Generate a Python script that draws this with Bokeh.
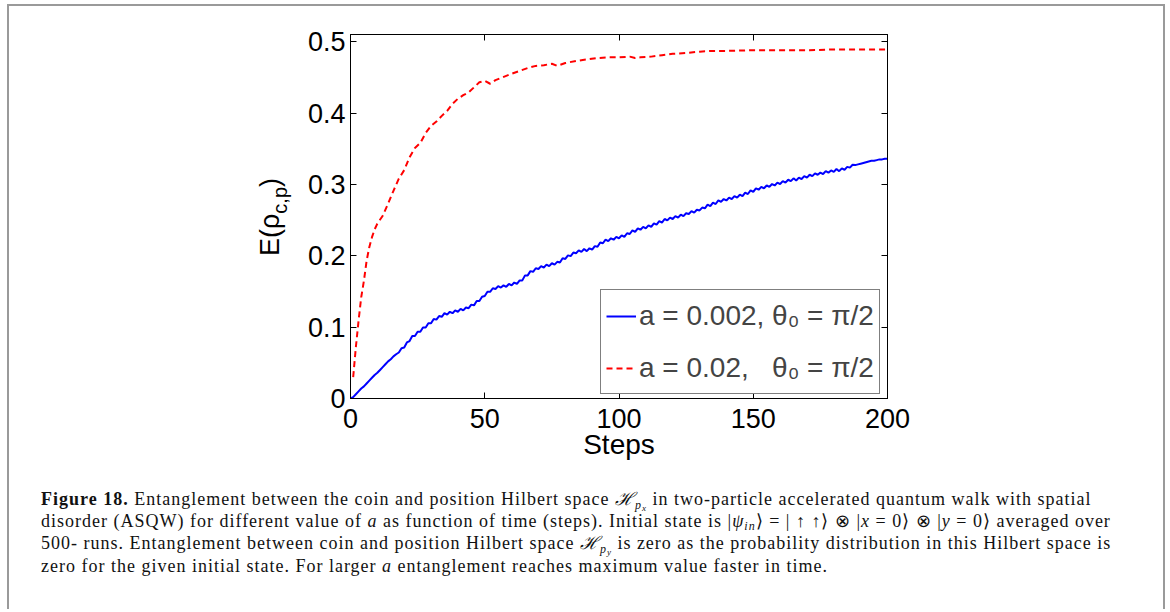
from bokeh.plotting import figure
from bokeh.models import (Range1d, FixedTicker, LinearAxis, Legend, LegendItem, Div)
from bokeh.layouts import column, row
from bokeh.embed import file_html
from bokeh.resources import INLINE

# ---------------- data ----------------
x_ticks = [0, 50, 100, 150, 200]
y_ticks = [0, 0.1, 0.2, 0.3, 0.4, 0.5]
y_tick_labels = ["0", "0.1", "0.2", "0.3", "0.4", "0.5"]

blue_steps = list(range(0, 201))
blue_vals = [
    0.000, 0.002, 0.006, 0.010, 0.014, 0.017, 0.021, 0.025, 0.029, 0.033,
    0.036, 0.040, 0.044, 0.048, 0.052, 0.055, 0.059, 0.062, 0.0645, 0.0705,
    0.0715, 0.0785, 0.0805, 0.0875, 0.0875, 0.0935, 0.0935, 0.0995, 0.0995, 0.1055,
    0.1055, 0.1115, 0.1105, 0.1155, 0.1145, 0.1195, 0.1175, 0.1215, 0.1195, 0.1235,
    0.1215, 0.1255, 0.1235, 0.1275, 0.1265, 0.1315, 0.1305, 0.1365, 0.1365, 0.1425,
    0.1435, 0.1495, 0.1495, 0.1545, 0.1535, 0.1575, 0.1555, 0.1585, 0.1565, 0.1605,
    0.1585, 0.1625, 0.1605, 0.1655, 0.1655, 0.1725, 0.1725, 0.1785, 0.1775, 0.1825,
    0.1815, 0.1855, 0.1835, 0.1875, 0.1855, 0.1895, 0.1875, 0.1915, 0.1905, 0.1965,
    0.1955, 0.2005, 0.1995, 0.2045, 0.2035, 0.2075, 0.2055, 0.2095, 0.2065, 0.2105,
    0.2085, 0.2135, 0.2125, 0.2185, 0.2175, 0.2225, 0.2205, 0.2245, 0.2225, 0.2265,
    0.2245, 0.2285, 0.2265, 0.2315, 0.2305, 0.2355, 0.2335, 0.2385, 0.2365, 0.2405,
    0.2385, 0.2425, 0.2405, 0.2455, 0.2435, 0.2485, 0.2465, 0.2515, 0.2495, 0.2535,
    0.2515, 0.2555, 0.2535, 0.2575, 0.2555, 0.2595, 0.2585, 0.2625, 0.2605, 0.2645,
    0.2635, 0.2675, 0.2665, 0.2715, 0.2695, 0.2745, 0.2725, 0.2775, 0.2755, 0.2795,
    0.2775, 0.2815, 0.2795, 0.2835, 0.2815, 0.2855, 0.2835, 0.2885, 0.2865, 0.2915,
    0.2895, 0.2945, 0.2925, 0.2965, 0.2945, 0.2985, 0.2965, 0.3005, 0.2985, 0.3025,
    0.3005, 0.3045, 0.3025, 0.3065, 0.3045, 0.3085, 0.3055, 0.3095, 0.3075, 0.3115,
    0.3095, 0.3135, 0.3115, 0.3155, 0.3135, 0.3165, 0.3145, 0.3185, 0.3165, 0.3195,
    0.3175, 0.3215, 0.3185, 0.3225, 0.3205, 0.3245, 0.3235, 0.3275, 0.3270, 0.3280,
    0.3290, 0.3300, 0.3310, 0.3320, 0.3330, 0.3330, 0.3340, 0.3350, 0.3350, 0.3360,
    0.3360,
]

red_steps = [1, 2, 3, 4, 5, 6, 7, 8, 9, 10, 12, 14, 16, 18, 20, 22, 24, 26, 28, 30,
             32, 34, 36, 38, 40, 42, 44, 46, 48, 50, 52, 54, 56, 58, 60, 63, 66, 69,
             72, 75, 77, 80, 84, 88, 92, 96, 100, 104, 106, 108, 112, 116, 120, 125,
             130, 135, 140, 150, 160, 170, 180, 190, 200]
red_vals = [0.030, 0.072, 0.109, 0.142, 0.165, 0.193, 0.212, 0.226, 0.237, 0.245,
            0.256, 0.273, 0.291, 0.308, 0.320, 0.338, 0.351, 0.358, 0.372, 0.382,
            0.388, 0.396, 0.403, 0.413, 0.420, 0.425, 0.429, 0.436, 0.443, 0.445,
            0.441, 0.446, 0.449, 0.452, 0.455, 0.459, 0.463, 0.466, 0.467, 0.469,
            0.466, 0.470, 0.473, 0.475, 0.477, 0.478, 0.478, 0.479, 0.477, 0.478,
            0.479, 0.481, 0.483, 0.484, 0.486, 0.487, 0.487, 0.488, 0.488, 0.488,
            0.489, 0.489, 0.489]

label_blue = "a = 0.002, \u03b8\u2080\u00a0= \u03c0/2"
label_red = "a = 0.02,\u00a0\u00a0\u00a0\u03b8\u2080\u00a0= \u03c0/2"

SANS = "Liberation Sans"

# ---------------- figure ----------------
p = figure(x_range=Range1d(0, 200), y_range=Range1d(0, 0.51),
           frame_width=537, frame_height=364,
           min_border_left=51, min_border_right=276,
           min_border_top=28, min_border_bottom=77,
           output_backend="svg", toolbar_location=None,
           background_fill_color="white", border_fill_color="white")
p.grid.visible = False
p.outline_line_color = "black"
p.outline_line_width = 1

for ax in (p.xaxis, p.yaxis):
    ax.major_tick_in = 6
    ax.major_tick_out = 0
    ax.minor_tick_line_color = None
    ax.axis_line_color = "black"
    ax.major_tick_line_color = "black"
    ax.major_label_text_font = SANS
    ax.major_label_text_font_size = "27px"
    ax.major_label_text_color = "black"

p.xaxis.major_label_standoff = 10
p.yaxis.major_label_standoff = 5
p.xaxis.ticker = FixedTicker(ticks=x_ticks)
p.yaxis.ticker = FixedTicker(ticks=y_ticks)
p.yaxis.major_label_overrides = {t: s for t, s in zip(y_ticks, y_tick_labels)}
p.xaxis.axis_label = "Steps"
p.xaxis.axis_label_text_font = SANS
p.xaxis.axis_label_text_font_size = "28px"
p.xaxis.axis_label_text_font_style = "normal"
p.xaxis.axis_label_text_color = "black"
p.xaxis.axis_label_standoff = -2

# box ticks on top and right
top_ax = LinearAxis(ticker=FixedTicker(ticks=x_ticks), major_tick_in=6, major_tick_out=0,
                    minor_tick_line_color=None, axis_line_color="black",
                    major_label_overrides={t: "" for t in x_ticks},
                    major_label_text_font_size="1px")
right_ax = LinearAxis(ticker=FixedTicker(ticks=y_ticks), major_tick_in=6, major_tick_out=0,
                      minor_tick_line_color=None, axis_line_color="black",
                      major_label_overrides={t: "" for t in y_ticks},
                      major_label_text_font_size="1px")
p.add_layout(top_ax, "above")
p.add_layout(right_ax, "right")

blue = p.line(blue_steps, blue_vals, line_color="#0000ff", line_width=2)
red = p.line(red_steps, red_vals, line_color="#ff0000", line_width=2, line_dash="6 4")

legend = Legend(items=[LegendItem(label=label_blue, renderers=[blue]),
                       LegendItem(label=label_red, renderers=[red])],
                location=(250, 4), margin=0, padding=5, spacing=11,
                label_height=41, glyph_width=30, glyph_height=20,
                label_standoff=3,
                label_text_font=SANS, label_text_font_size="28px",
                label_text_baseline="alphabetic",
                border_line_color="black", border_line_width=1,
                background_fill_color="white", background_fill_alpha=1)
p.add_layout(legend)

# y-axis label E(rho_{c,p}) as rotated HTML text beside the plot
ylab_html = (
    '<div style="position:absolute;left:243px;top:245px;transform:rotate(-90deg);'
    'transform-origin:0 0;font-family:\'Liberation Sans\',sans-serif;font-size:27px;'
    'line-height:27px;white-space:nowrap;color:#000;">'
    'E(\u03c1<span style="font-size:20px;position:relative;top:8px">c,p</span>)</div>'
)
ylab = Div(text=ylab_html, width=280, height=459)

caption_html = (
    '<div style="font-family:\'Liberation Serif\',serif;font-size:18px;line-height:22.2px;'
    'letter-spacing:1px;white-space:nowrap;color:#111;">'
    '<b>Figure 18.</b> Entanglement between the coin and position Hilbert space '
    '<i>\u210b</i><span style="font-size:12px;vertical-align:-4px;line-height:0"><i>p'
    '<span style="font-size:9px;vertical-align:-2px">x</span></i></span> '
    'in two-particle accelerated quantum walk with spatial<br>'
    'disorder (ASQW) for different value of <i>a</i> as function of time (steps). Initial state is '
    '|<i>\u03c8<span style="font-size:12px;vertical-align:-3px;line-height:0">in</span></i>\u27e9 = '
    '| \u2191 \u2191\u27e9 \u2297 |<i>x</i> = 0\u27e9 \u2297 |<i>y</i> = 0\u27e9 averaged over<br>'
    '500- runs. Entanglement between coin and position Hilbert space '
    '<i>\u210b</i><span style="font-size:12px;vertical-align:-4px;line-height:0"><i>p'
    '<span style="font-size:9px;vertical-align:-2px">y</span></i></span> '
    'is zero as the probability distribution in this Hilbert space is<br>'
    'zero for the given initial state. For larger <i>a</i> entanglement reaches maximum value faster in time.'
    '</div>'
)
div = Div(text=caption_html, width=1144, height=124,
          styles={"padding-left": "27px", "padding-top": "8px"})

layout = column(row(ylab, p), div,
                styles={"border": "2px solid #9a9a9a", "border-bottom": "none",
                        "margin-left": "7px", "margin-top": "4px"})

open("out.html", "w").write(file_html(layout, INLINE))
